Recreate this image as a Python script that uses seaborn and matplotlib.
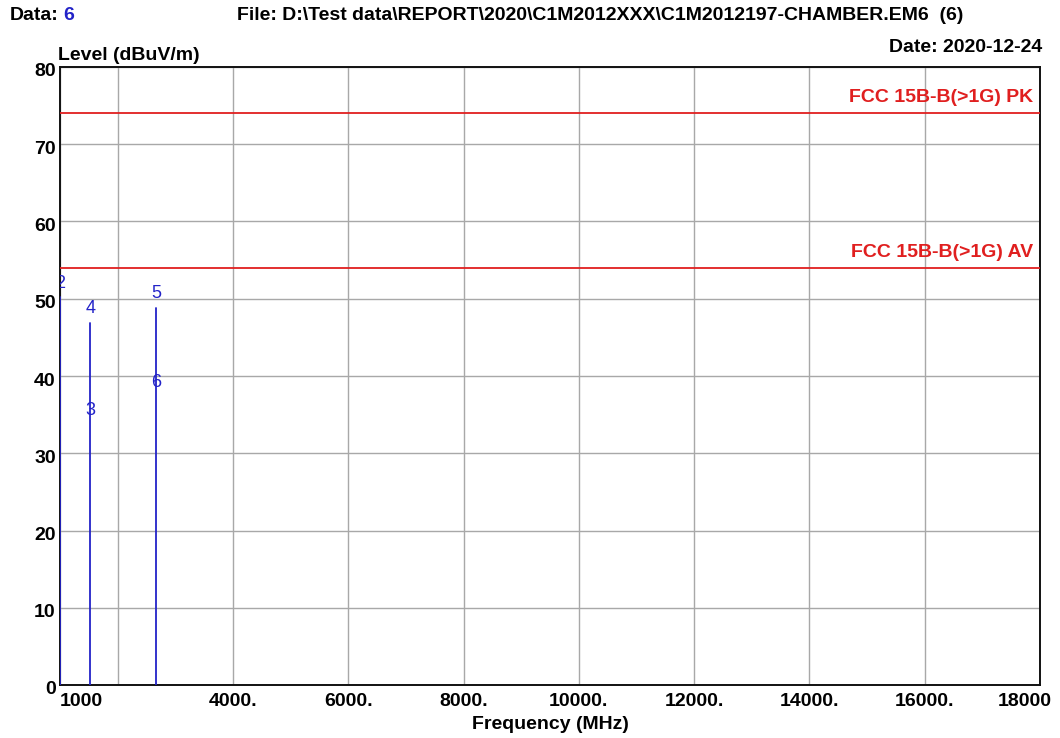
import matplotlib
matplotlib.use('Agg')
import matplotlib.pyplot as plt
import matplotlib.transforms as mtransforms
import seaborn as sns
import pandas as pd

# ---- data ----
freq_mhz = [1000, 1528, 2664]
peak_level = [50.2, 46.9, 48.85]
peak_marker = ['2', '4', '5']
avg_freq_mhz = [1528, 2664]
avg_level = [33.8, 37.3]
avg_marker = ['3', '6']
limit_names = ['FCC 15B-B(>1G) PK', 'FCC 15B-B(>1G) AV']
limit_levels = [74, 54]
x_ticks = [1000, 2000, 4000, 6000, 8000, 10000, 12000, 14000, 16000, 18000]
x_tick_labels = ['1000', '', '4000.', '6000.', '8000.', '10000.', '12000.',
                 '14000.', '16000.', '18000']
y_ticks = [0, 10, 20, 30, 40, 50, 60, 70, 80]

sns.set_style('white')
plt.rcParams['font.family'] = ['Liberation Sans', 'DejaVu Sans']
plt.rcParams['text.color'] = 'black'
plt.rcParams['xtick.color'] = 'black'
plt.rcParams['ytick.color'] = 'black'
plt.rcParams['axes.labelcolor'] = 'black'

BLUE = '#2323c8'
RED = '#e01f1f'
GRID = '#a8a8a8'
FS = 14

fig = plt.figure(figsize=(10.6, 7.38), dpi=100)
ax = fig.add_axes([60 / 1060, 1 - 685 / 738, 980 / 1060, 618 / 738])

# stems
rows = []
for i, (f, p) in enumerate(zip(freq_mhz, peak_level)):
    rows.append({'freq': f, 'level': 0.0, 'stem': i})
    rows.append({'freq': f, 'level': p, 'stem': i})
stems = pd.DataFrame(rows)
sns.lineplot(data=stems, x='freq', y='level', units='stem', estimator=None,
             sort=False, color=BLUE, linewidth=1.3, ax=ax, zorder=4)

# limit lines
for name, lvl in zip(limit_names, limit_levels):
    ax.axhline(lvl, color=RED, linewidth=1.3, zorder=3)
    ax.annotate(name, (1, lvl), xycoords=('axes fraction', 'data'),
                xytext=(-5, 5), textcoords='offset points', ha='right',
                va='bottom', color=RED, fontsize=FS, fontweight='bold')

# marker labels
for f, v, m in zip(freq_mhz, peak_level, peak_marker):
    ax.annotate(m, (f, v), xytext=(0, 10), textcoords='offset points',
                ha='center', va='center', color=BLUE, fontsize=13,
                annotation_clip=True, clip_on=True)
for f, v, m in zip(avg_freq_mhz, avg_level, avg_marker):
    ax.annotate(m, (f, v), xytext=(0, 10), textcoords='offset points',
                ha='center', va='center', color=BLUE, fontsize=13,
                annotation_clip=True, clip_on=True)

ax.set_xlim(1000, 18000)
ax.set_ylim(0, 80)
ax.set_xticks(x_ticks)
ax.set_xticklabels(x_tick_labels, fontsize=FS, fontweight='bold')
ax.set_yticks(y_ticks)
ax.set_yticklabels([str(v) for v in y_ticks], fontsize=FS, fontweight='bold')
ax.tick_params(axis='x', length=0, pad=6)
ax.tick_params(axis='y', length=0, pad=3)
for lab in ax.get_yticklabels():
    lab.set_transform(lab.get_transform() +
                      mtransforms.ScaledTranslation(0, -0.03, fig.dpi_scale_trans))
ax.get_xticklabels()[0].set_ha('left')
last = ax.get_xticklabels()[-1]
last.set_transform(last.get_transform() +
                   mtransforms.ScaledTranslation(-0.15, 0, fig.dpi_scale_trans))
ax.grid(True, color=GRID, linewidth=1.0)
ax.set_axisbelow(True)
for s in ax.spines.values():
    s.set_color('#111111')
    s.set_linewidth(1.4)

ax.set_xlabel('Frequency (MHz)', fontsize=FS, fontweight='bold', labelpad=4)
ax.set_ylabel('')

# header texts
fig.text(10 / 1060, 1 - 16 / 738, 'Data:', fontsize=FS, fontweight='bold',
         ha='left', va='center')
fig.text(63 / 1060, 1 - 16 / 738, '6', fontsize=FS, fontweight='bold',
         color=BLUE, ha='left', va='center')
fig.text(600 / 1060, 1 - 16 / 738,
         'File: D:\\Test data\\REPORT\\2020\\C1M2012XXX\\C1M2012197-CHAMBER.EM6  (6)',
         fontsize=FS, fontweight='bold', ha='center', va='center')
fig.text(1042 / 1060, 1 - 47 / 738, 'Date: 2020-12-24', fontsize=FS,
         fontweight='bold', ha='right', va='center')
fig.text(58 / 1060, 1 - 55 / 738, 'Level (dBuV/m)', fontsize=FS,
         fontweight='bold', ha='left', va='center')

fig.savefig('out.png', dpi=100, facecolor='white')
